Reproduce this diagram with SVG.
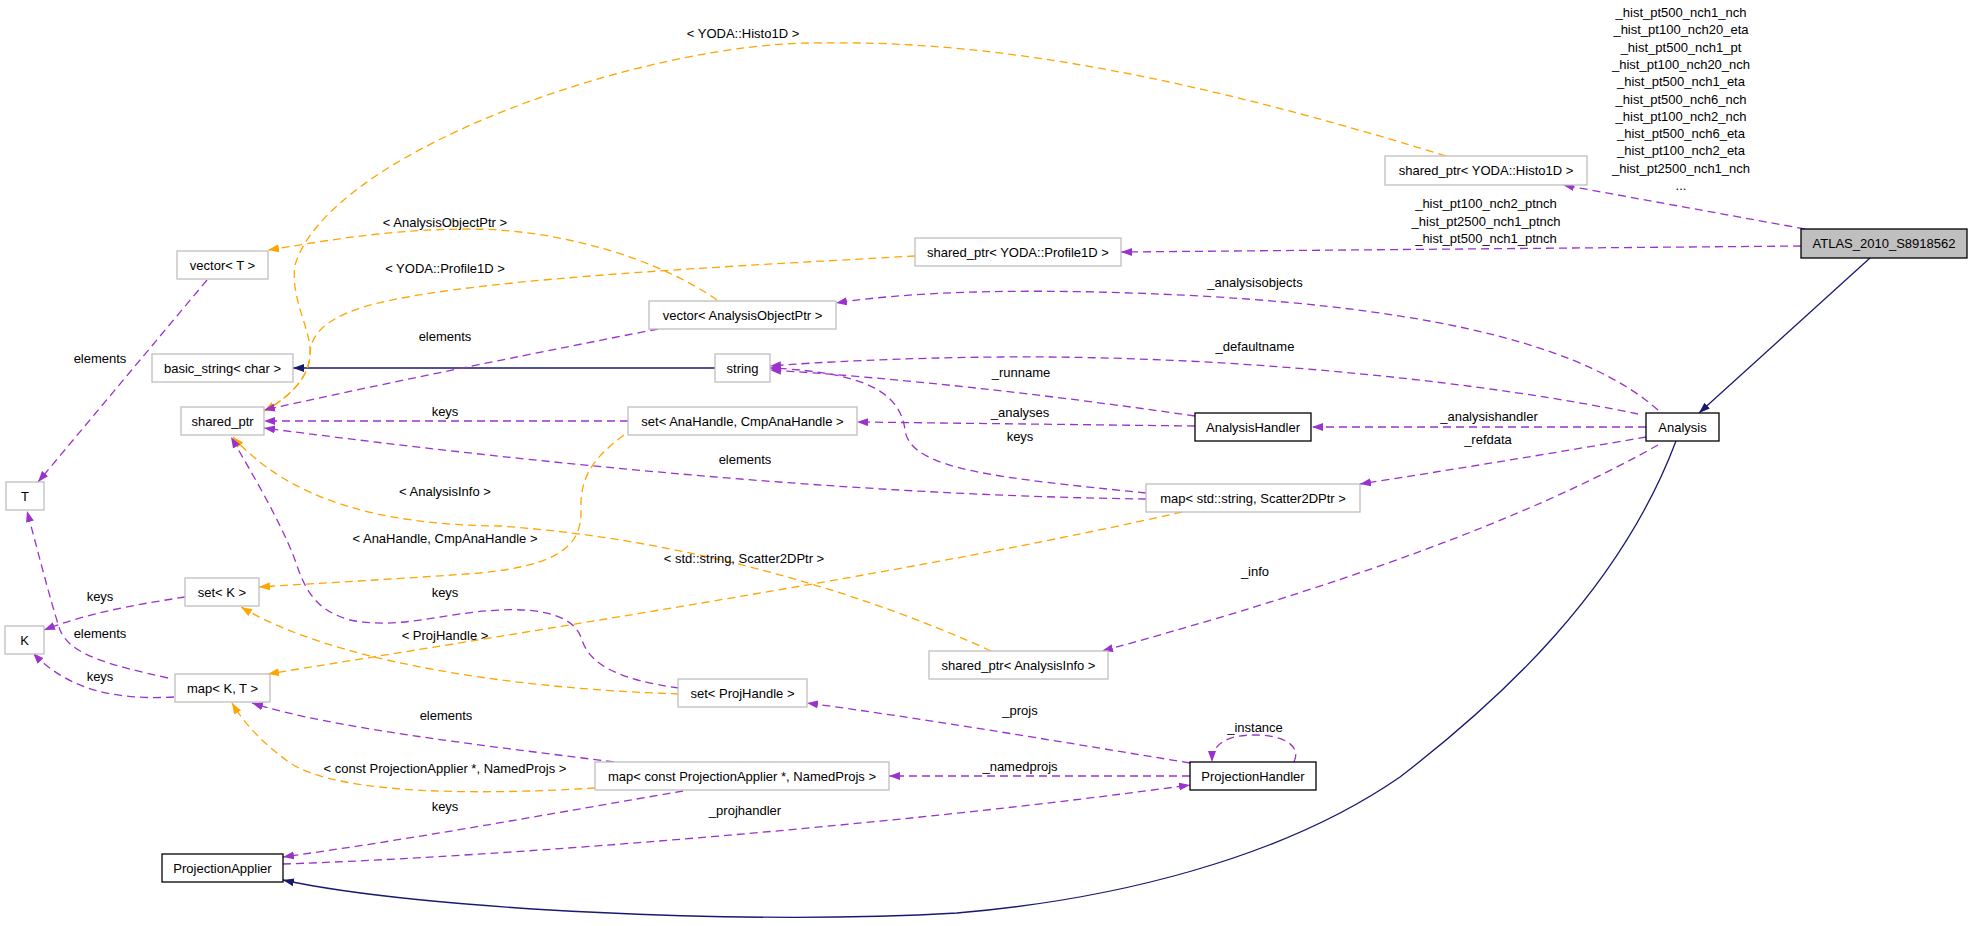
<svg xmlns="http://www.w3.org/2000/svg" width="1971" height="926" viewBox="0 0 1971 926">
<style>
text{font-family:"Liberation Sans",Arial,sans-serif;font-size:13px;fill:#000;text-anchor:middle}
.n rect{fill:#fff;stroke:#bfbfbf;stroke-width:1.3}
.n.d rect{stroke:#000}
.n.c rect{fill:#bfbfbf;stroke:#000}
.e path{fill:none;stroke-width:1.3}
.p{stroke:#9a32cd;stroke-dasharray:8,5}
.o{stroke:#ffa500;stroke-dasharray:8,5}
.s{stroke:#191970}
</style>
<defs>
<marker id="ap" markerUnits="userSpaceOnUse" markerWidth="12" markerHeight="9" refX="11" refY="4" orient="auto"><path d="M0,0 L11,4 L0,8 z" fill="#9a32cd" stroke="none"/></marker>
<marker id="ao" markerUnits="userSpaceOnUse" markerWidth="12" markerHeight="9" refX="11" refY="4" orient="auto"><path d="M0,0 L11,4 L0,8 z" fill="#ffa500" stroke="none"/></marker>
<marker id="as" markerUnits="userSpaceOnUse" markerWidth="12" markerHeight="9" refX="11" refY="4" orient="auto"><path d="M0,0 L11,4 L0,8 z" fill="#191970" stroke="none"/></marker>
</defs>
<rect width="1971" height="926" fill="#fff"/>
<g id="edges" class="e">
<path class="s" marker-end="url(#as)" d="M1870,258 L1699,413"/>
<path class="s" marker-end="url(#as)" d="M1676,441 C1620,590 1500,700 1400,777 C1280,860 1110,900 957,913 C750,925 420,910 283,880"/>
<path class="s" marker-end="url(#as)" d="M715,368 L293,368"/>
<path class="p" marker-end="url(#ap)" d="M1805,229 L1563,185"/>
<path class="p" marker-end="url(#ap)" d="M1801,246 L1121,252"/>
<path class="o" marker-end="url(#ao)" d="M1446,156 C1200,80 1000,40 823,43 C650,40 330,150 295,265 C290,300 312,330 310,355 C309,380 285,400 264,411"/>
<path class="o" marker-end="url(#ao)" d="M915,256 C700,268 450,280 360,308 C325,320 310,335 310,355 C309,380 285,400 264,411"/>
<path class="o" marker-end="url(#ao)" d="M717,300 C660,260 560,228 464,229 C380,230 320,242 268,250"/>
<path class="p" marker-end="url(#ap)" d="M658,329 C550,350 400,380 264,410"/>
<path class="p" marker-end="url(#ap)" d="M1658,410 C1590,350 1450,310 1200,296 C1050,288 920,290 836,303"/>
<path class="p" marker-end="url(#ap)" d="M1638,414 C1500,385 1250,355 1000,357 C900,358 820,362 770,366"/>
<path class="p" marker-end="url(#ap)" d="M1195,416 C1050,395 900,378 770,370"/>
<path class="p" marker-end="url(#ap)" d="M1195,426 L857,422"/>
<path class="p" marker-end="url(#ap)" d="M1646,427 L1312,427"/>
<path class="p" marker-end="url(#ap)" d="M1646,437 C1560,452 1450,470 1360,484"/>
<path class="p" marker-end="url(#ap)" d="M1658,445 C1560,500 1400,570 1102,651"/>
<path class="p" marker-end="url(#ap)" d="M1146,493 C1000,478 910,470 905,430 C900,390 860,372 770,368"/>
<path class="p" marker-end="url(#ap)" d="M1146,499 C900,496 600,472 264,428"/>
<path class="p" marker-end="url(#ap)" d="M628,421 L264,421"/>
<path class="o" marker-end="url(#ao)" d="M624,435 C590,460 580,480 581,510 C582,545 560,565 480,573 C400,579 320,583 259,587"/>
<path class="o" marker-end="url(#ao)" d="M1182,512 C950,565 600,620 268,674"/>
<path class="o" marker-end="url(#ao)" d="M991,651 C880,600 700,540 500,526 C380,525 290,500 233,437"/>
<path class="p" marker-end="url(#ap)" d="M679,688 C620,680 590,665 582,640 C575,615 540,608 500,610 C440,613 400,630 350,620 C315,610 305,590 295,560 C280,520 250,470 231,437"/>
<path class="o" marker-end="url(#ao)" d="M679,694 C500,688 330,660 241,607"/>
<path class="p" marker-end="url(#ap)" d="M185,597 C140,604 90,612 44,630"/>
<path class="p" marker-end="url(#ap)" d="M168,678 C110,665 70,655 60,630 C50,600 35,540 27,511"/>
<path class="p" marker-end="url(#ap)" d="M174,697 C120,700 70,692 33,653"/>
<path class="p" marker-end="url(#ap)" d="M207,280 L38,482"/>
<path class="p" marker-end="url(#ap)" d="M614,762 C480,745 330,728 252,703"/>
<path class="o" marker-end="url(#ao)" d="M595,788 C480,795 340,795 290,763 C265,745 245,725 232,703"/>
<path class="p" marker-end="url(#ap)" d="M683,791 C560,812 420,838 283,857"/>
<path class="p" marker-end="url(#ap)" d="M283,864 C500,857 900,825 1190,785"/>
<path class="p" marker-end="url(#ap)" d="M1190,776 L889,776"/>
<path class="p" marker-end="url(#ap)" d="M1190,763 C1050,740 920,718 807,703"/>
<path class="p" marker-end="url(#ap)" d="M1294,762 C1302,745 1282,735 1255,735 C1230,735 1212,742 1212,762"/>
<text x="743" y="38">&lt; YODA::Histo1D &gt;</text>
<text x="1681" y="17">_hist_pt500_nch1_nch</text>
<text x="1681" y="34">_hist_pt100_nch20_eta</text>
<text x="1681" y="52">_hist_pt500_nch1_pt</text>
<text x="1681" y="69">_hist_pt100_nch20_nch</text>
<text x="1681" y="86">_hist_pt500_nch1_eta</text>
<text x="1681" y="104">_hist_pt500_nch6_nch</text>
<text x="1681" y="121">_hist_pt100_nch2_nch</text>
<text x="1681" y="138">_hist_pt500_nch6_eta</text>
<text x="1681" y="155">_hist_pt100_nch2_eta</text>
<text x="1681" y="173">_hist_pt2500_nch1_nch</text>
<text x="1681" y="190">...</text>
<text x="1486" y="208">_hist_pt100_nch2_ptnch</text>
<text x="1486" y="226">_hist_pt2500_nch1_ptnch</text>
<text x="1486" y="243">_hist_pt500_nch1_ptnch</text>
<text x="445" y="227">&lt; AnalysisObjectPtr &gt;</text>
<text x="445" y="273">&lt; YODA::Profile1D &gt;</text>
<text x="445" y="341">elements</text>
<text x="1255" y="287">_analysisobjects</text>
<text x="1255" y="351">_defaultname</text>
<text x="1021" y="377">_runname</text>
<text x="1020" y="417">_analyses</text>
<text x="445" y="416">keys</text>
<text x="1489" y="421">_analysishandler</text>
<text x="1020" y="441">keys</text>
<text x="1488" y="444">_refdata</text>
<text x="745" y="464">elements</text>
<text x="445" y="496">&lt; AnalysisInfo &gt;</text>
<text x="445" y="543">&lt; AnaHandle, CmpAnaHandle &gt;</text>
<text x="744" y="563">&lt; std::string, Scatter2DPtr &gt;</text>
<text x="1255" y="576">_info</text>
<text x="100" y="601">keys</text>
<text x="445" y="597">keys</text>
<text x="100" y="638">elements</text>
<text x="445" y="640">&lt; ProjHandle &gt;</text>
<text x="100" y="681">keys</text>
<text x="1020" y="715">_projs</text>
<text x="446" y="720">elements</text>
<text x="1255" y="732">_instance</text>
<text x="1020" y="771">_namedprojs</text>
<text x="445" y="773">&lt; const ProjectionApplier *, NamedProjs &gt;</text>
<text x="445" y="811">keys</text>
<text x="745" y="815">_projhandler</text>
<text x="100" y="363">elements</text>
</g>
<g id="n_atlas" class="n c"><rect x="1801" y="229" width="166" height="29"/><text x="1884" y="248">ATLAS_2010_S8918562</text></g>
<g id="n_analysis" class="n d"><rect x="1646" y="413" width="73" height="28"/><text x="1682.5" y="431.5">Analysis</text></g>
<g id="n_histo" class="n"><rect x="1385" y="156" width="202" height="29"/><text x="1486" y="175">shared_ptr&lt; YODA::Histo1D &gt;</text></g>
<g id="n_profile" class="n"><rect x="915" y="238" width="206" height="28"/><text x="1018" y="256.5">shared_ptr&lt; YODA::Profile1D &gt;</text></g>
<g id="n_vecaop" class="n"><rect x="649" y="301" width="187" height="28"/><text x="742.5" y="319.5">vector&lt; AnalysisObjectPtr &gt;</text></g>
<g id="n_vect" class="n"><rect x="177" y="251" width="91" height="28"/><text x="222.5" y="269.5">vector&lt; T &gt;</text></g>
<g id="n_basicstring" class="n"><rect x="152" y="354" width="141" height="28"/><text x="222.5" y="372.5">basic_string&lt; char &gt;</text></g>
<g id="n_string" class="n"><rect x="715" y="354" width="55" height="28"/><text x="742.5" y="372.5">string</text></g>
<g id="n_sharedptr" class="n"><rect x="181" y="407" width="83" height="28"/><text x="222.5" y="425.5">shared_ptr</text></g>
<g id="n_setana" class="n"><rect x="628" y="407" width="229" height="28"/><text x="742.5" y="425.5">set&lt; AnaHandle, CmpAnaHandle &gt;</text></g>
<g id="n_anahandler" class="n d"><rect x="1195" y="413" width="116" height="28"/><text x="1253" y="431.5">AnalysisHandler</text></g>
<g id="n_mapscatter" class="n"><rect x="1146" y="484" width="214" height="28"/><text x="1253" y="502.5">map&lt; std::string, Scatter2DPtr &gt;</text></g>
<g id="n_t" class="n"><rect x="6" y="482" width="38" height="28"/><text x="25" y="500.5">T</text></g>
<g id="n_k" class="n"><rect x="5" y="626" width="39" height="28"/><text x="24.5" y="644.5">K</text></g>
<g id="n_setk" class="n"><rect x="185" y="578" width="74" height="28"/><text x="222" y="596.5">set&lt; K &gt;</text></g>
<g id="n_mapkt" class="n"><rect x="175" y="674" width="95" height="28"/><text x="222.5" y="692.5">map&lt; K, T &gt;</text></g>
<g id="n_anainfo" class="n"><rect x="929" y="651" width="179" height="28"/><text x="1018.5" y="669.5">shared_ptr&lt; AnalysisInfo &gt;</text></g>
<g id="n_setproj" class="n"><rect x="678" y="679" width="129" height="28"/><text x="742.5" y="697.5">set&lt; ProjHandle &gt;</text></g>
<g id="n_mapconst" class="n"><rect x="595" y="762" width="294" height="28"/><text x="742" y="780.5">map&lt; const ProjectionApplier *, NamedProjs &gt;</text></g>
<g id="n_projhandler" class="n d"><rect x="1190" y="762" width="126" height="28"/><text x="1253" y="780.5">ProjectionHandler</text></g>
<g id="n_projapplier" class="n d"><rect x="162" y="854" width="121" height="28"/><text x="222.5" y="872.5">ProjectionApplier</text></g>
</svg>
